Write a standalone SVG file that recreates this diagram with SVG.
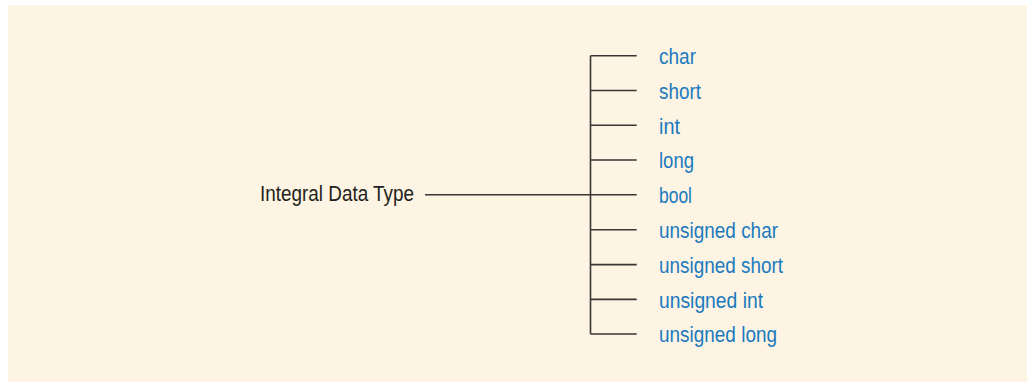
<svg xmlns="http://www.w3.org/2000/svg" width="1027" height="382" viewBox="0 0 1027 382">
<style>
.bg{fill:#fdf4e3}
.ln{stroke:#3a3536;stroke-width:1.6;fill:none}
.lbl{font-family:"Liberation Sans",Arial,sans-serif;font-size:21.5px;fill:#231f20}
.item{font-family:"Liberation Sans",Arial,sans-serif;font-size:21.5px;fill:#1b7abf}
</style>
<rect x="0" y="0" width="1027" height="382" fill="#ffffff"/>
<rect class="bg" x="8" y="5" width="1019" height="377"/>
<g id="connectors">
<line class="ln" x1="425" y1="194.7" x2="636.7" y2="194.7"/>
<line class="ln" x1="590.5" y1="55.7" x2="590.5" y2="334"/>
<line class="ln" x1="590.5" y1="55.7" x2="636.7" y2="55.7"/>
<line class="ln" x1="590.5" y1="90.5" x2="636.7" y2="90.5"/>
<line class="ln" x1="590.5" y1="125.3" x2="636.7" y2="125.3"/>
<line class="ln" x1="590.5" y1="160" x2="636.7" y2="160"/>
<line class="ln" x1="590.5" y1="229.8" x2="636.7" y2="229.8"/>
<line class="ln" x1="590.5" y1="264.6" x2="636.7" y2="264.6"/>
<line class="ln" x1="590.5" y1="299.4" x2="636.7" y2="299.4"/>
<line class="ln" x1="590.5" y1="334" x2="636.7" y2="334"/>
</g>
<g id="root"><text class="lbl" x="260" y="201" textLength="154" lengthAdjust="spacingAndGlyphs">Integral Data Type</text></g>
<g id="n-char"><text class="item" x="659" y="64" textLength="37" lengthAdjust="spacingAndGlyphs">char</text></g>
<g id="n-short"><text class="item" x="659" y="98.8" textLength="42" lengthAdjust="spacingAndGlyphs">short</text></g>
<g id="n-int"><text class="item" x="659" y="133.6" textLength="21" lengthAdjust="spacingAndGlyphs">int</text></g>
<g id="n-long"><text class="item" x="659" y="168.3" textLength="35" lengthAdjust="spacingAndGlyphs">long</text></g>
<g id="n-bool"><text class="item" x="659" y="203" textLength="33" lengthAdjust="spacingAndGlyphs">bool</text></g>
<g id="n-uchar"><text class="item" x="659" y="238.1" textLength="119" lengthAdjust="spacingAndGlyphs">unsigned char</text></g>
<g id="n-ushort"><text class="item" x="659" y="272.9" textLength="124" lengthAdjust="spacingAndGlyphs">unsigned short</text></g>
<g id="n-uint"><text class="item" x="659" y="307.7" textLength="104" lengthAdjust="spacingAndGlyphs">unsigned int</text></g>
<g id="n-ulong"><text class="item" x="659" y="342.3" textLength="118" lengthAdjust="spacingAndGlyphs">unsigned long</text></g>
</svg>
